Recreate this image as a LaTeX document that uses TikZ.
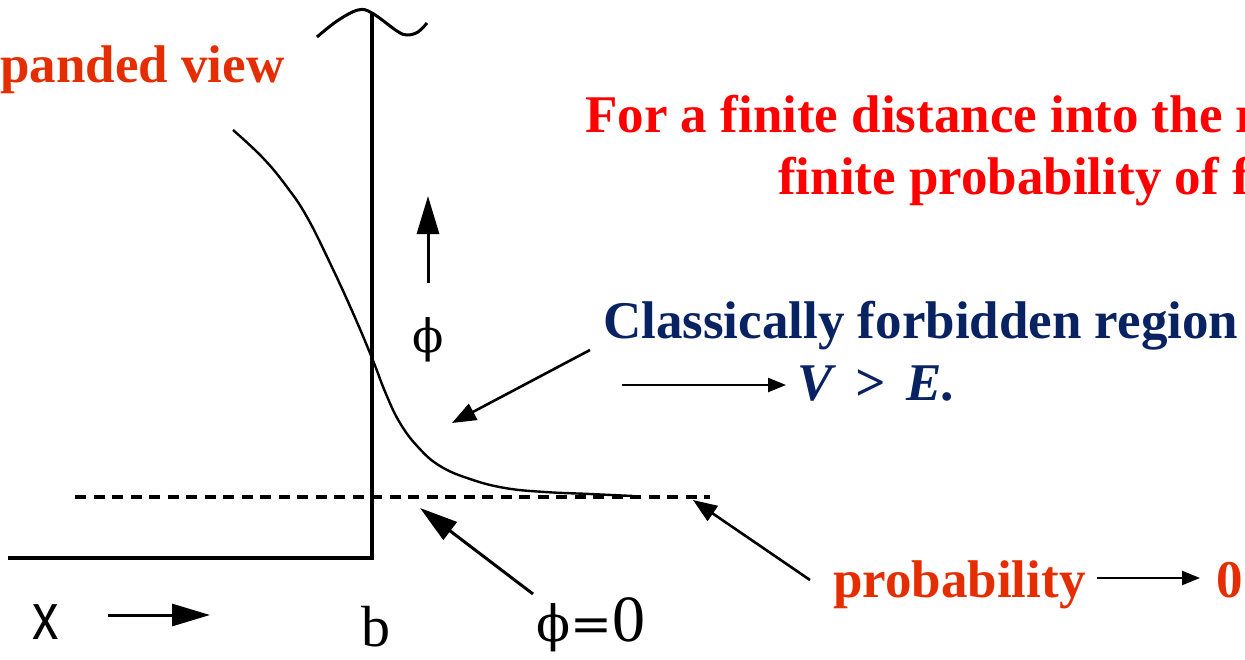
\documentclass[tikz,border=0pt]{standalone}
\usepackage{fontspec}
\setmainfont{Liberation Serif}
\newfontfamily\sansf{Liberation Sans}
\newfontfamily\phif{DejaVu Serif}
\usetikzlibrary{arrows.meta}
\definecolor{redtxt}{RGB}{255,0,0}
\definecolor{orangetxt}{RGB}{228,45,0}
\definecolor{navytxt}{RGB}{8,34,98}
\begin{document}
\begin{tikzpicture}[x=1pt,y=-1pt,
  txt/.style={inner sep=0pt, anchor=base west, font=\fontsize{53}{62}\selectfont\bfseries},
  thin/.style={line width=2.4pt, line join=round},
  bigarr/.style={line width=3pt, -{Triangle[length=38pt,width=22pt]}},
  arr/.style={line width=2.6pt, -{Triangle[length=24pt,width=18pt]}},
  smallarr/.style={line width=2.4pt, -{Triangle[length=18pt,width=14pt]}}]
\useasboundingbox (0,0) rectangle (1245,659);

% potential step
\coordinate (ptop) at (372,12);
\coordinate (pcorner) at (372,558);
\coordinate (pleft) at (8,558);
\draw[line width=3.2pt] (ptop) -- (pcorner) -- (pleft);

% wave on top
\draw[thin, line width=3pt] plot[smooth, tension=0.6] coordinates {(317,37) (337,21) (358,10) (372,13) (397,31) (407,35) (418,32) (427,23)};

% wave function tail
\draw[thin] plot[smooth, tension=0.7] coordinates {(233,130) (263,158) (287,187) (307,217) (330,263) (353,313) (372,358) (386,394) (400,423) (418,447) (440,466) (470,479) (505,488) (545,492) (590,494) (633,496)};

% zero line
\coordinate (zl) at (75,497);
\coordinate (zr) at (710,497);
\draw[line width=3.4pt, dash pattern=on 11pt off 7.5pt] (zl) -- (zr);

% labels
\node[txt, text=orangetxt] (expv) at (0,82) {panded view};
\node[txt, text=redtxt] (fin1) at (585,132) {For a finite distance into the r};
\node[txt, text=redtxt] (fin2) at (778,194) {finite probability of f};
\node[txt, text=navytxt] (cfr) at (603,338) {Classically forbidden region};
\node[txt, text=navytxt, font=\fontsize{53}{62}\selectfont\bfseries\itshape] (vge) at (797,400) {V \,>\, E.};
\node[txt, text=orangetxt] (prob) at (833,597) {probability};
\node[txt, text=orangetxt] (pzero) at (1216,597) {0};

\node[inner sep=0pt, font=\fontsize{46}{50}\selectfont\phif] (phi) at (428,340) {ϕ};
\node[inner sep=0pt, font=\fontsize{66}{70}\selectfont\sansf, xscale=0.8] (xlab) at (46,622) {x};
\node[inner sep=0pt, anchor=base, font=\fontsize{58}{70}\selectfont] (blab) at (376,646) {b};
\node[inner sep=0pt, anchor=base west] (phizero) at (536,641) {{\fontsize{50}{60}\selectfont\phif ϕ=}{\fontsize{66}{70}\selectfont 0}};

% arrows
\coordinate (xa1) at (108,615); \coordinate (xa2) at (210,615);
\draw[bigarr] (xa1) -- (xa2);
\coordinate (ua1) at (428,283); \coordinate (ua2) at (428,196);
\draw[bigarr] (ua1) -- (ua2);
\coordinate (ca1) at (590,350); \coordinate (ca2) at (452,423);
\draw[arr] (ca1) -- (ca2);
\coordinate (va1) at (622,385); \coordinate (va2) at (786,385);
\draw[smallarr] (va1) -- (va2);
\coordinate (pa1) at (533,594); \coordinate (pa2) at (420,508);
\draw[bigarr] (pa1) -- (pa2);
\coordinate (qa1) at (810,580); \coordinate (qa2) at (693,500);
\draw[arr] (qa1) -- (qa2);
\coordinate (za1) at (1097,578); \coordinate (za2) at (1200,578);
\draw[smallarr] (za1) -- (za2);
\end{tikzpicture}
\end{document}
